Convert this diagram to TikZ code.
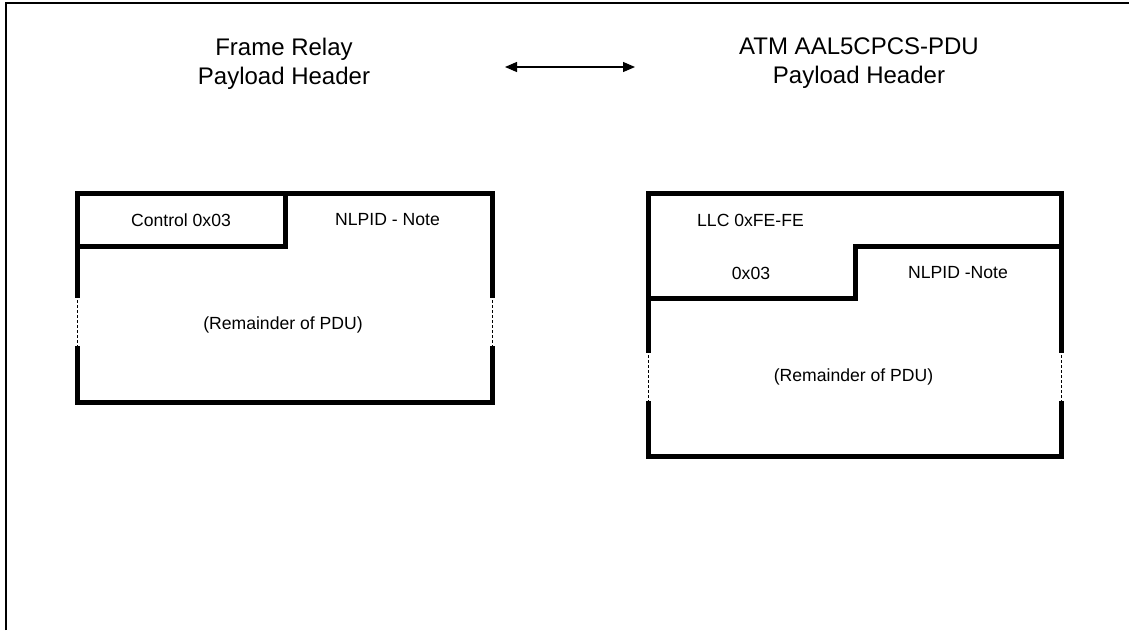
\documentclass[tikz,border=0pt]{standalone}
\usepackage{fontspec}
\setmainfont{Liberation Sans}
\usetikzlibrary{arrows.meta}
\tikzset{
  thick box/.style={line width=5pt, line cap=rect},
  gapline/.style={line width=1pt, dash pattern=on 3pt off 2pt},
  frameline/.style={line width=1.5pt},
  title/.style={align=center, font=\fontsize{24}{29}\selectfont, inner sep=0pt},
  field/.style={font=\fontsize{17.6}{20}\selectfont, inner sep=0pt},
}
\begin{document}
\begin{tikzpicture}[x=1pt, y=-1pt]
\useasboundingbox (0,0) rectangle (1129,630);
% outer frame
\draw[frameline] (6,630) -- (6,3) -- (1129,3);

% titles
\node[title] (frtitle) at (284,63.5) {Frame Relay\\Payload Header};
\node[title] (atmtitle) at (859,63.5) {ATM AAL5CPCS-PDU\\Payload Header};
\coordinate (arL) at (505,67);
\coordinate (arR) at (635,67);
\draw[line width=1.2pt, {Triangle[length=12pt,width=10pt]}-{Triangle[length=12pt,width=10pt]}] (arL) -- (arR);

% left box (Frame Relay)
\draw[thick box] (77,295) -- (77,193) -- (492,193) -- (492,295);
\draw[thick box] (77,348) -- (77,402) -- (492,402) -- (492,348);
\draw[gapline] (77,295) -- (77,348);
\draw[gapline] (492,295) -- (492,348);
\draw[thick box] (77,246) -- (285,246) -- (285,193);
\node[field] (ctrl) at (181,220) {Control 0x03};
\node[field] (nlpidL) at (387.5,220) {NLPID - Note};
\node[field] (remL) at (283,325) {(Remainder of PDU)};

% right box (ATM)
\draw[thick box] (648,350) -- (648,193) -- (1061,193) -- (1061,350);
\draw[thick box] (648,403) -- (648,456) -- (1061,456) -- (1061,403);
\draw[gapline] (648,350) -- (648,403);
\draw[gapline] (1061,350) -- (1061,403);
\draw[thick box] (1061,246) -- (855,246) -- (855,298) -- (648,298);
\node[field] (llc) at (750.5,220) {LLC 0xFE-FE};
\node[field] (x03) at (751,273) {0x03};
\node[field] (nlpidR) at (958,273) {NLPID -Note};
\node[field] (remR) at (853.5,377) {(Remainder of PDU)};
\end{tikzpicture}
\end{document}
